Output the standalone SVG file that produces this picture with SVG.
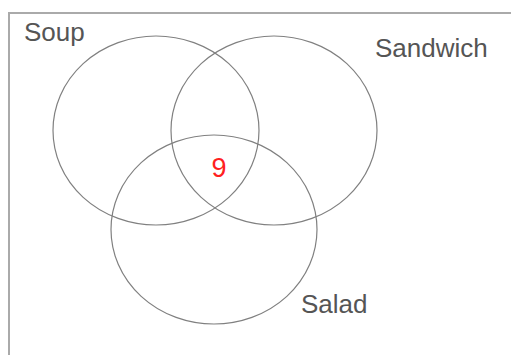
<svg xmlns="http://www.w3.org/2000/svg" width="511" height="355" viewBox="0 0 511 355">
<style>
.set{fill:none;stroke:#808080;stroke-width:1.2}
.lbl{font-family:"Liberation Sans",Arial,sans-serif;font-size:26px;fill:#555}
.num{font-family:"Liberation Sans",Arial,sans-serif;font-size:27px;fill:#ff2020;text-anchor:middle}
</style>
<rect x="0" y="0" width="511" height="355" fill="#fff"/>
<path d="M9 355 V13 H511" fill="none" stroke="#aaa" stroke-width="2"/>
<g id="soup"><ellipse class="set" cx="156" cy="130.5" rx="103" ry="94.5"/><text class="lbl" x="24" y="41">Soup</text></g>
<g id="sandwich"><ellipse class="set" cx="274" cy="130.5" rx="103" ry="94.5"/><text class="lbl" x="375" y="57">Sandwich</text></g>
<g id="salad"><ellipse class="set" cx="214" cy="229.5" rx="103" ry="94.5"/><text class="lbl" x="301" y="313">Salad</text></g>
<g id="center"><text class="num" x="219" y="177">9</text></g>
<g id="connectors"/>
</svg>
